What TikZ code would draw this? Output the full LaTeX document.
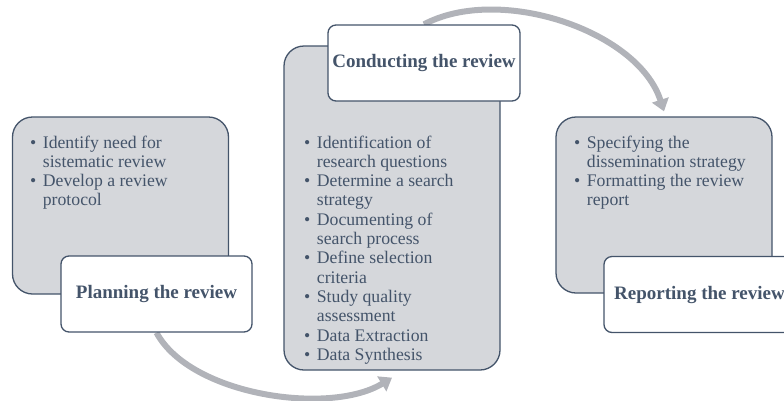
\documentclass[tikz,border=0pt]{standalone}
\usepackage{fontspec}
\setmainfont{Liberation Serif}
\usepackage{tikz}
\usetikzlibrary{arrows.meta, backgrounds}
\definecolor{slate}{HTML}{44546A}
\definecolor{panel}{HTML}{D5D7DB}
\definecolor{flow}{HTML}{B1B3B9}
\tikzstyle{greybox} = [rectangle, rounded corners=20pt, minimum width=216pt, draw=slate, line width=1.3pt, fill=panel]
\tikzstyle{titlebox} = [rectangle, rounded corners=8pt, minimum width=191pt, minimum height=76pt, text centered, draw=slate, line width=1.3pt, fill=white, text=slate, font=\fontsize{19}{22}\selectfont\bfseries]
\tikzstyle{bullets} = [anchor=base west, inner sep=0pt, text=slate, font=\fontsize{17.7}{19.3}\selectfont]
\tikzstyle{arrow} = [line width=6pt, flow, -{Triangle[length=12pt,width=17pt]}]

\begin{document}
\begin{tikzpicture}[x=1pt, y=-1pt]
\useasboundingbox (0,0) rectangle (784,400);
\clip (0,0) rectangle (784,400);
% planning
\node (plangrey) [greybox, minimum height=177pt] at (120.5,205.5) {};
\node (plan) [titlebox] at (156.5,294) {Planning the review};
\node (plantext) [bullets] at (30,148) {\begin{tabular}[t]{@{}l@{\hspace{6.5pt}}l@{}}
\textbullet & Identify need for\\
 & sistematic review\\
\textbullet & Develop a review\\
 & protocol
\end{tabular}};

% conducting
\node (condgrey) [greybox, minimum height=324pt] at (392,208) {};
\node (cond) [titlebox, minimum width=192pt] at (424,63) {Conducting the review};
\node (condtext) [bullets] at (304,148) {\begin{tabular}[t]{@{}l@{\hspace{6.5pt}}l@{}}
\textbullet & Identification of\\
 & research questions\\
\textbullet & Determine a search\\
 & strategy\\
\textbullet & Documenting of\\
 & search process\\
\textbullet & Define selection\\
 & criteria\\
\textbullet & Study quality\\
 & assessment\\
\textbullet & Data Extraction\\
\textbullet & Data Synthesis
\end{tabular}};

% reporting
\node (repgrey) [greybox, minimum height=176pt] at (664,205) {};
\node (rep) [titlebox] at (699.5,294.5) {Reporting the review};
\node (reptext) [bullets] at (574,148) {\begin{tabular}[t]{@{}l@{\hspace{6.5pt}}l@{}}
\textbullet & Specifying the\\
 & dissemination strategy\\
\textbullet & Formatting the review\\
 & report
\end{tabular}};

\begin{scope}[on background layer]
\draw [arrow] (plan.south) .. controls +(34,63) and +(-62,38) .. ([yshift=-7pt]condgrey.south);
\draw [arrow] (cond.north) .. controls +(75,-40) and +(-26,-81) .. ([yshift=5pt]repgrey.north);
\end{scope}
\end{tikzpicture}
\end{document}
